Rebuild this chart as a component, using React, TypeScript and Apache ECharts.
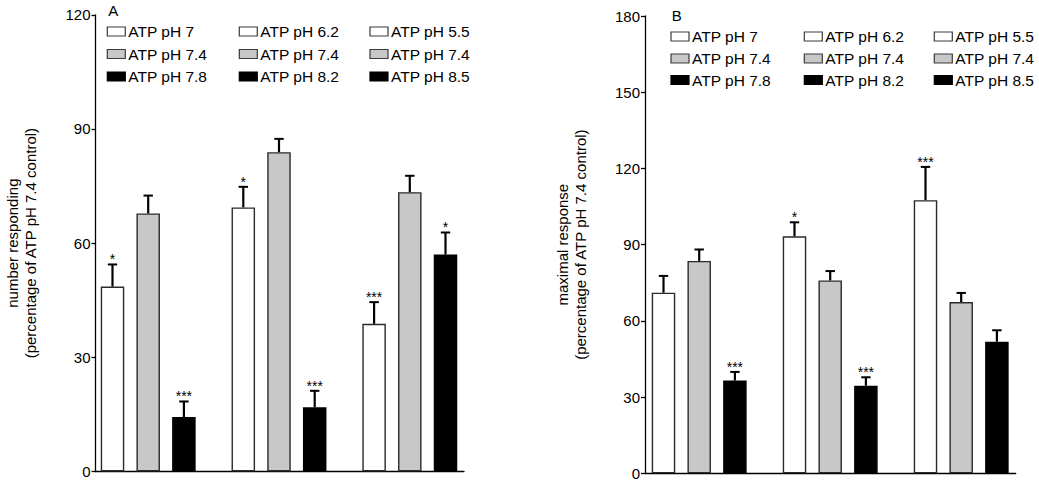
import React, { useEffect, useRef } from "react";
import * as echarts from "echarts";

// ---- data ----
const categories = ["pH 7 / 7.4 / 7.8", "pH 6.2 / 7.4 / 8.2", "pH 5.5 / 7.4 / 8.5"];
const seriesNames = ["acidic ATP", "ATP pH 7.4", "alkaline ATP"];
const legendLabels = [
  ["ATP pH 7", "ATP pH 7.4", "ATP pH 7.8"],
  ["ATP pH 6.2", "ATP pH 7.4", "ATP pH 8.2"],
  ["ATP pH 5.5", "ATP pH 7.4", "ATP pH 8.5"],
];

// Panel A: number responding
const aAcid = [48.6, 69.4, 38.8];
const aAcidErr = [5.8, 5.4, 5.7];
const aControl = [67.8, 83.9, 73.4];
const aControlErr = [4.7, 3.5, 4.3];
const aAlk = [14.3, 16.9, 57.0];
const aAlkErr = [4.1, 4.3, 5.8];
const aAcidSig = ["*", "*", "***"];
const aControlSig = ["", "", ""];
const aAlkSig = ["***", "***", "*"];
const aTicks = [0, 30, 60, 90, 120];

// Panel B: maximal response
const bAcid = [71.1, 93.3, 107.5];
const bAcidErr = [6.6, 5.5, 13.1];
const bControl = [83.6, 75.9, 67.4];
const bControlErr = [4.5, 3.7, 3.6];
const bAlk = [36.5, 34.5, 51.8];
const bAlkErr = [3.4, 3.3, 4.5];
const bAcidSig = ["", "*", "***"];
const bControlSig = ["", "", ""];
const bAlkSig = ["***", "***", ""];
const bTicks = [0, 30, 60, 90, 120, 150, 180];

const FONT = '"Liberation Sans", Arial, Helvetica, sans-serif';
const FILLS = ["#ffffff", "#c8c8c8", "#000000"];
const BORDER = "#2a2a2a";
const BAR_W = 23.5;
const BAR_GAP = 12.2;
const STEP = BAR_W + BAR_GAP;

type Panel = {
  letter: string;
  yName: string;
  ticks: number[];
  values: number[][];
  errs: number[][];
  sigs: string[][];
  axesGrid: { left: number; top: number; width: number; height: number };
  barsGrid: { left: number; width: number };
  legendX: number[];
  legendY: number[];
  letterPos: number[];
};

const panels: Panel[] = [
  {
    letter: "A",
    yName: "number responding\n(percentage of ATP pH 7.4 control)",
    ticks: aTicks,
    values: [aAcid, aControl, aAlk],
    errs: [aAcidErr, aControlErr, aAlkErr],
    sigs: [aAcidSig, aControlSig, aAlkSig],
    axesGrid: { left: 95.5, top: 14.8, width: 368.5, height: 456.7 },
    barsGrid: { left: 82.8, width: 392.4 },
    legendX: [107.3, 239.3, 370],
    legendY: [31.5, 54, 76.5],
    letterPos: [108.3, 10.5],
  },
  {
    letter: "B",
    yName: "maximal response\n(percentage of ATP pH 7.4 control)",
    ticks: bTicks,
    values: [bAcid, bControl, bAlk],
    errs: [bAcidErr, bControlErr, bAlkErr],
    sigs: [bAcidSig, bControlSig, bAlkSig],
    axesGrid: { left: 645, top: 16, width: 370.7, height: 457.3 },
    barsGrid: { left: 633.7, width: 393 },
    legendX: [671, 804.3, 934.3],
    legendY: [36.5, 58.5, 80],
    letterPos: [671.7, 16],
  },
];

function buildOption() {
  const grid: any[] = [];
  const xAxis: any[] = [];
  const yAxis: any[] = [];
  const series: any[] = [];
  const graphic: any[] = [];

  panels.forEach((p, pi) => {
    const gAxes = pi * 2;
    const gBars = pi * 2 + 1;
    const yMin = p.ticks[0];
    const yMax = p.ticks[p.ticks.length - 1];
    const interval = p.ticks[1] - p.ticks[0];
    grid.push({
      left: p.axesGrid.left,
      top: p.axesGrid.top,
      width: p.axesGrid.width,
      height: p.axesGrid.height,
      containLabel: false,
    });
    grid.push({
      left: p.barsGrid.left,
      top: p.axesGrid.top,
      width: p.barsGrid.width,
      height: p.axesGrid.height,
      containLabel: false,
    });
    // visible axes
    xAxis.push({
      gridIndex: gAxes,
      type: "value",
      min: 0,
      max: 1,
      axisLine: { show: true, onZero: false, lineStyle: { color: "#000", width: 1.3 } },
      axisTick: { show: false },
      axisLabel: { show: false },
      splitLine: { show: false },
    });
    yAxis.push({
      gridIndex: gAxes,
      type: "value",
      min: yMin,
      max: yMax,
      interval,
      name: p.yName,
      nameLocation: "middle",
      nameGap: 56,
      nameTextStyle: { fontFamily: FONT, fontSize: 15, color: "#000", lineHeight: 18 },
      axisLine: { show: true, onZero: false, lineStyle: { color: "#000", width: 1.3 } },
      axisTick: { show: true, length: 4, lineStyle: { color: "#000", width: 1.3 } },
      axisLabel: { margin: 5, fontFamily: FONT, fontSize: 15, color: "#000" },
      splitLine: { show: false },
    });
    // hidden axes for bars
    xAxis.push({
      gridIndex: gBars,
      type: "category",
      data: categories,
      show: false,
    });
    yAxis.push({
      gridIndex: gBars,
      type: "value",
      min: yMin,
      max: yMax,
      show: false,
      splitLine: { show: false },
    });

    p.values.forEach((vals, si) => {
      series.push({
        type: "bar",
        name: seriesNames[si] + " " + p.letter,
        xAxisIndex: gBars,
        yAxisIndex: gBars,
        data: vals,
        barWidth: BAR_W,
        barGap: (BAR_GAP / BAR_W) * 100 + "%",
        itemStyle: {
          color: FILLS[si],
          borderColor: si === 2 ? "#000" : BORDER,
          borderWidth: 1.4,
        },
        z: 2,
      });
    });

    const recs: any[] = [];
    p.values.forEach((vals, si) => {
      vals.forEach((v, ci) => {
        recs.push({ value: [ci, si, v, p.errs[si][ci]], sig: p.sigs[si][ci] });
      });
    });
    series.push({
      type: "custom",
      name: "errors " + p.letter,
      xAxisIndex: gBars,
      yAxisIndex: gBars,
      data: recs.map((r) => r.value),
      z: 5,
      renderItem: (params: any, api: any) => {
        const rec = recs[params.dataIndex];
        const ci = api.value(0);
        const si = api.value(1);
        const v = api.value(2);
        const e = api.value(3);
        const b = api.coord([ci, v]);
        const t = api.coord([ci, v + e]);
        const x = b[0] + (si - 1) * STEP;
        const children: any[] = [
          {
            type: "line",
            shape: { x1: x, y1: b[1], x2: x, y2: t[1] },
            style: { stroke: "#000", lineWidth: 2.2 },
          },
          {
            type: "line",
            shape: { x1: x - 4.7, y1: t[1], x2: x + 4.7, y2: t[1] },
            style: { stroke: "#000", lineWidth: 2 },
          },
        ];
        if (rec.sig) {
          children.push({
            type: "text",
            style: {
              text: rec.sig,
              x: x,
              y: t[1] - 5,
              align: "center",
              verticalAlign: "middle",
              fontFamily: FONT,
              fontSize: 14,
              fill: "#000",
            },
          });
        }
        return { type: "group", children };
      },
    });

    // panel letter
    graphic.push({
      type: "text",
      left: p.letterPos[0],
      top: p.letterPos[1] - 8,
      style: { text: p.letter, fontFamily: FONT, fontSize: 15, fill: "#000" },
    });
    // legend (3 columns x 3 rows)
    legendLabels.forEach((col, ci) => {
      col.forEach((label, ri) => {
        const bx = p.legendX[ci];
        const by = p.legendY[ri];
        graphic.push({
          type: "rect",
          shape: { x: bx, y: by - 4.5, width: 18, height: 9 },
          style: { fill: FILLS[ri], stroke: ri === 2 ? "#000" : "#3a3a3a", lineWidth: 1.2 },
        });
        graphic.push({
          type: "text",
          x: bx + 21,
          y: by,
          style: {
            text: label,
            fontFamily: FONT,
            fontSize: 15.5,
            fill: "#000",
            verticalAlign: "middle",
            align: "left",
          },
        });
      });
    });
  });

  return {
    animation: false,
    backgroundColor: "#ffffff",
    grid,
    xAxis,
    yAxis,
    series,
    graphic,
  };
}

export default function App() {
  const ref = useRef<HTMLDivElement>(null);
  useEffect(() => {
    if (!ref.current) return;
    const chart = echarts.init(ref.current, undefined, { renderer: "svg" });
    chart.setOption(buildOption() as any);
    return () => chart.dispose();
  }, []);
  return (
    <div
      ref={ref}
      style={{ position: "fixed", left: 0, top: 0, width: 1039, height: 482, background: "#fff" }}
    />
  );
}
